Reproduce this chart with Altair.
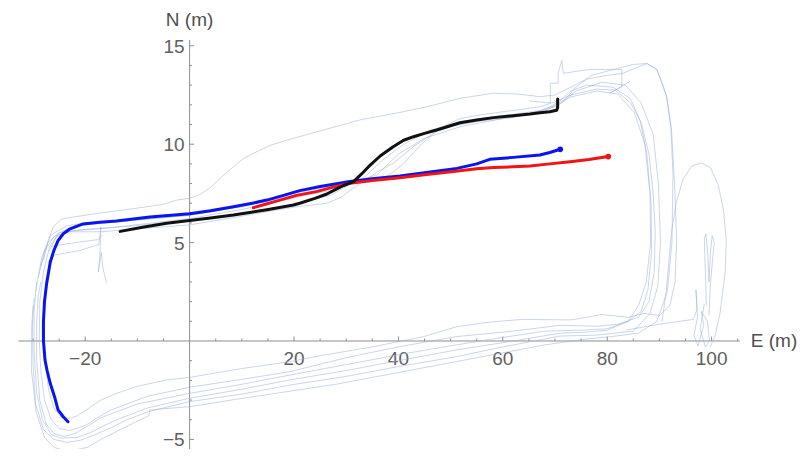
import altair as alt
import pandas as pd

# ---------------- data ----------------
blue_x = [-23.3, -24.2, -25.2, -25.8, -26.7, -27.3, -27.7, -28.0, -28.0, -27.8, -27.4, -26.7, -26.0, -25.2, -24.2,
          -22.9, -20.4, -17.2, -14.0, -7.6, 0.0, 4.0, 8.4, 12.0, 14.8, 18.0, 21.1, 25.0, 30.7, 35.0, 40.3, 45.0,
          51.2, 55.0, 57.5, 62.0, 67.1, 69.0, 71.0]
blue_y = [-4.1, -3.85, -3.5, -2.9, -2.15, -1.5, -0.97, 0.0, 1.0, 2.0, 2.9, 4.0, 4.6, 5.1, 5.45,
          5.7, 5.95, 6.03, 6.1, 6.3, 6.47, 6.62, 6.82, 7.0, 7.16, 7.4, 7.64, 7.85, 8.1, 8.25, 8.38, 8.55,
          8.77, 9.0, 9.23, 9.33, 9.45, 9.58, 9.74]

red_x = [12.2, 14.5, 17.3, 20.5, 24.3, 27.5, 30.7, 35.0, 40.3, 45.0, 51.8, 55.0, 58.2, 62.0, 65.2, 69.0, 72.9, 76.5, 80.2]
red_y = [6.77, 6.95, 7.16, 7.4, 7.59, 7.82, 8.02, 8.15, 8.3, 8.45, 8.65, 8.75, 8.82, 8.85, 8.89, 9.0, 9.11, 9.22, 9.37]

black_x = [-13.3, -9.0, -4.4, 0.0, 4.0, 8.4, 11.5, 14.8, 17.5, 19.9, 21.1, 24.0, 26.3, 28.0, 29.5, 31.4, 33.0, 34.6,
           36.5, 39.0, 41.0, 42.9, 45.0, 47.3, 49.5, 51.8, 55.0, 58.2, 62.0, 65.2, 67.1, 69.0, 70.3, 70.5, 70.5]
black_y = [5.57, 5.78, 5.98, 6.12, 6.25, 6.4, 6.53, 6.67, 6.8, 6.91, 7.0, 7.25, 7.47, 7.7, 7.9, 8.1, 8.5, 8.94,
           9.4, 9.87, 10.2, 10.38, 10.55, 10.72, 10.9, 11.09, 11.23, 11.35, 11.45, 11.53, 11.6, 11.65, 11.72, 11.85, 12.3]

# faint background traces: lists of (E, N) points
faint_traces = {
    "L1": [(-28.0, 4.1), (-27.0, 5.2), (-26.1, 5.8), (-24.5, 6.2), (-21, 6.35), (-17.2, 6.5), (-10, 6.75), (-5, 6.95),
           (-2.5, 7.16), (0, 7.25), (2, 7.45), (4, 7.8), (6, 8.3), (8.4, 8.86), (10.5, 9.3), (12.9, 9.62), (15.5, 9.95),
           (18.6, 10.2), (24, 10.6), (32.6, 11.23), (40, 11.6), (45.4, 11.9), (51.8, 12.33), (58.2, 12.59), (63, 12.55),
           (67.1, 12.41), (70, 12.5), (73, 12.9), (76, 13.3), (80, 13.5), (83, 13.6), (87.6, 14.1), (89.5, 13.8),
           (91.4, 12.4), (92.3, 10.8), (92.9, 8), (93.3, 5.1), (93.0, 3.0), (92, 1.8), (90, 1.3), (87, 1.4),
           (84, 1.2), (79, 1.35), (76, 1.2), (72.9, 1.07), (63.9, 1.1), (57, 0.95), (51.2, 0.73), (44.8, 0.22),
           (35, -0.3), (25, -0.75), (19.2, -1.05), (10, -1.4), (0, -1.85), (-4.4, -1.98), (-10, -2.3), (-14, -2.66),
           (-17, -3.0), (-19.5, -3.45), (-21.5, -3.8), (-22.9, -3.93), (-24.5, -3.9), (-26, -3.4), (-27.0, -2.5),
           (-27.6, -1.2), (-27.9, 0.5), (-27.8, 2.2), (-27.4, 3.3)],
    "L2": [(-27.0, 4.5), (-25.5, 5.3), (-23, 5.55), (-17, 5.55), (-10, 5.7), (0, 5.9), (8, 6.25), (14.8, 6.57),
           (20, 6.8), (26.3, 7.0), (29, 7.3), (30.5, 7.6), (32.6, 8.0), (36, 8.6), (39, 9.03), (43, 9.9), (46.7, 10.55),
           (49, 10.95), (51.8, 11.3), (56, 11.5), (60.1, 11.65), (67.1, 11.9), (70, 12.15), (73, 12.5), (78, 12.8),
           (81.5, 12.75), (84.5, 12.1), (86.5, 11.1), (88.0, 9.5), (88.8, 7.5), (89.2, 5.5), (89.0, 3.5), (88.0, 2.0),
           (86, 1.2), (82, 0.85), (78, 0.75), (71, 0.8), (65, 0.6), (60, 0.45), (51, 0.22), (40, -0.3), (30, -0.85),
           (19.2, -1.56), (10, -1.95), (0, -2.35), (-8, -2.8), (-15, -3.5), (-18, -3.95), (-20, -4.3), (-23, -4.55),
           (-25, -4.45), (-26.5, -4.0), (-27.8, -3.0), (-28.5, -1.5), (-28.8, 0.0), (-28.7, 2.0), (-28.0, 3.5)],
    "L3": [(-28.0, 3.5), (-26.8, 4.8), (-25, 5.5), (-22, 5.85), (-18, 5.95), (-10, 6.15), (0, 6.38), (10, 6.85),
           (20, 7.5), (30, 8.0), (35, 8.15), (38, 8.4), (41, 9.0), (44, 9.9), (47, 10.6), (50, 10.9), (55, 11.15),
           (62, 11.35), (68, 11.75), (71, 12.2), (73, 12.7), (76, 13.0), (81.1, 12.9), (84.5, 12.3), (86.3, 11.2),
           (87.6, 9.5), (88.4, 7), (88.5, 4.5), (87.8, 2.6), (86.5, 1.5), (84, 1.0), (80, 0.62), (75, 0.55), (68, 0.5),
           (58, 0.1), (51, -0.2), (40, -0.7), (30, -1.2), (19.2, -1.73), (10, -2.2), (0, -2.66), (-10, -3.2),
           (-17, -3.9), (-20, -4.4), (-22, -4.7), (-24, -4.86), (-26, -4.7), (-27.5, -4.2), (-28.7, -3.0),
           (-29.3, -1.0), (-29.3, 1.0), (-29.0, 2.3), (-28.5, 3.0)],
    "L4": [(-28.5, 3.8), (-27.2, 5.0), (-25, 5.5), (-21, 5.65), (-15, 5.75), (0, 6.12), (10, 6.48), (20, 6.95),
           (27, 7.4), (31, 8.0), (35, 9.0), (39, 9.9), (43, 10.4), (50, 10.95), (58, 11.3), (66, 11.6), (70, 11.9),
           (73, 12.4), (78, 12.7), (82, 12.55), (85.2, 11.6), (87.2, 10.0), (88.2, 7.5), (88.3, 5.0), (87.5, 3.0),
           (86, 1.8), (84, 1.0), (80, 0.55), (76, 0.45), (71, 0.4), (62, 0.0), (51, -0.46), (40, -1.0), (30, -1.5),
           (19.2, -1.98), (10, -2.45), (0, -2.91), (-8, -3.4), (-13, -3.9), (-16, -4.25), (-19, -4.65), (-21.5, -4.9),
           (-24.5, -4.94), (-26.5, -4.75), (-28.2, -4.0), (-29.3, -2.6), (-29.8, -0.5), (-29.8, 1.5), (-29.3, 3.0)],
    "L5": [(-29, 3.2), (-27.8, 4.6), (-25.8, 5.35), (-22, 5.6), (-12, 5.85), (0, 6.22), (10, 6.68), (20, 7.28),
           (28, 7.7), (33, 8.2), (37, 9.2), (41, 10.0), (46, 10.7), (52, 11.15), (60, 11.45), (67, 11.7), (71, 12.05),
           (74, 12.7), (79, 13.15), (83.5, 13.0), (86.5, 12.1), (88.8, 10.5), (89.8, 8), (90.2, 5.0), (89.7, 2.8),
           (88.2, 1.4), (85, 0.5), (78, 0.3), (71, 0.25), (60, -0.3), (51, -0.8), (40, -1.3), (30, -1.8),
           (19.2, -2.24), (10, -2.7), (0, -3.08), (-8, -3.6), (-12, -4.0), (-15, -4.4), (-18, -4.75), (-21, -5.05),
           (-23.5, -5.15), (-26, -5.0), (-28, -4.5), (-29.5, -3.2), (-30.0, -1.2), (-30.1, 0.8), (-29.8, 2.2)],
    "L6": [(-29.5, 2.5), (-28.3, 4.3), (-26.5, 5.4), (-23.5, 5.85), (-20, 6.0), (-12, 6.1), (0, 6.4), (10, 6.82),
           (20, 7.42), (30, 7.95), (36, 8.45), (40, 9.5), (45, 10.3), (52, 10.9), (60, 11.3), (68, 11.65), (72, 12.3),
           (74, 12.9), (77, 13.5), (82, 13.85), (85, 14.05), (87.6, 14.1), (89.5, 13.8), (90.7, 13.0), (91.4, 12.4),
           (92.2, 10.8), (92.6, 8.5), (92.4, 5.0), (91.5, 2.5), (89.5, 1.0), (86, 0.4), (80, 0.2), (76, 0.1),
           (68, -0.2), (58, -0.7), (48, -1.2), (38, -1.7), (28, -2.2), (18, -2.6), (8, -3.0), (0, -3.34), (-3, -3.4),
           (-7.6, -3.5), (-7.8, -3.8), (-11, -4.2), (-14, -4.6), (-17, -5.0), (-19.5, -5.4), (-23.5, -5.62),
           (-26, -5.4), (-27.8, -4.9), (-29.4, -3.6), (-30.3, -1.5), (-30.3, 0.5), (-30.0, 1.8)],
    "E1": [(90.5, 1.0), (91.3, 2.5), (91.8, 4.0), (92.3, 5.5), (93.2, 7.0), (94.5, 8.2), (96.2, 8.9), (98.1, 9.05),
           (99.8, 8.8), (101.3, 7.9), (102.3, 6.6), (102.8, 5.1), (102.6, 3.5), (101.6, 1.4), (100.6, 0.2), (99.7, -0.3)],
    "E2": [(83.7, 0.56), (90, 0.85), (96.5, 1.1), (97.2, 1.6), (97.0, 2.6), (97.3, 1.2), (96.6, 0.3), (97.4, -0.25),
           (98.5, 0.8), (98.0, 1.5), (99.2, 1.0), (99.6, 0.0), (98.8, -0.3), (97.8, 0.6), (98.6, 1.9)],
    "E3": [(99.0, 1.8), (98.8, 3.5), (98.6, 5.2), (98.9, 5.45), (99.3, 4.3), (99.5, 3.0), (99.8, 4.6), (100.1, 5.35),
           (100.5, 5.0), (100.2, 4.2), (99.7, 2.6), (99.5, 1.3)],
    "E4": [(65, 12.2), (69.1, 12.1), (69.1, 13.1), (70.6, 13.1), (70.6, 13.6), (71.3, 14.24), (71.6, 13.6), (74, 13.7),
           (76.7, 13.8), (82.8, 13.8), (82.8, 12.9), (80.5, 12.6), (84.4, 13.2)],
    "E5": [(-27.2, 4.0), (-25.8, 4.37), (-21, 4.6), (-17.4, 4.9), (-17.0, 5.8), (-17.2, 4.3), (-17.5, 3.5),
           (-16.9, 4.5), (-16.6, 3.7), (-15.9, 2.93)],
    "E6": [(-26.5, 4.8), (-22, 5.0), (-17.5, 5.15), (-16.7, 5.4)],
}

x_major = [-20, 20, 40, 60, 80, 100]
x_major_labels = ["\u221220", "20", "40", "60", "80", "100"]
x_minor = [-30, -25, -15, -10, -5, 5, 10, 15, 25, 30, 35, 45, 50, 55, 65, 70, 75, 85, 90, 95, 105]
y_major = [-5, 5, 10, 15]
y_major_labels = ["\u22125", "5", "10", "15"]
y_minor = [-4, -3, -2, -1, 1, 2, 3, 4, 6, 7, 8, 9, 11, 12, 13, 14]

x_axis_range = [-32.8, 105.4]
y_axis_range = [-5.7, 15.3]

# ---------------- tables ----------------
rows = []
for name, pts in faint_traces.items():
    for i, (e, n) in enumerate(pts):
        rows.append({"trace": name, "i": i, "E": e, "N": n})
faint_df = pd.DataFrame(rows)

main_rows = []
for name, xs_, ys_ in [("blue", blue_x, blue_y), ("red", red_x, red_y), ("black", black_x, black_y)]:
    for i, (e, n) in enumerate(zip(xs_, ys_)):
        main_rows.append({"series": name, "i": i, "E": e, "N": n})
main_df = pd.DataFrame(main_rows)

end_df = pd.DataFrame({"series": ["blue", "red"], "E": [blue_x[-1], red_x[-1]], "N": [blue_y[-1], red_y[-1]]})

xmaj_df = pd.DataFrame({"t": x_major, "label": x_major_labels, "z": 0})
xmin_df = pd.DataFrame({"t": x_minor, "z": 0})
ymaj_df = pd.DataFrame({"t": y_major, "label": y_major_labels, "z": 0})
ymin_df = pd.DataFrame({"t": y_minor, "z": 0})

xs = alt.Scale(domain=[-34.79, 116.93], nice=False, zero=False)
ys = alt.Scale(domain=[-5.488, 16.92], nice=False, zero=False)


def X(f):
    return alt.X(f, type="quantitative", scale=xs, axis=None)


def Y(f):
    return alt.Y(f, type="quantitative", scale=ys, axis=None)


AX = "#8f8f8f"
LAB = "#606060"
FONT = "Liberation Sans"

axis_x = alt.Chart(pd.DataFrame({"a": [x_axis_range[0]], "b": [x_axis_range[1]], "z": [0]})).mark_rule(
    color=AX, strokeWidth=1).encode(x=X("a"), x2="b", y=Y("z"))
axis_y = alt.Chart(pd.DataFrame({"a": [y_axis_range[0]], "b": [y_axis_range[1]], "z": [0]})).mark_rule(
    color=AX, strokeWidth=1).encode(y=Y("a"), y2="b", x=X("z"))

xt_major = alt.Chart(xmaj_df).mark_rule(color=AX, y2Offset=-4.5).encode(x=X("t"), y=Y("z"), y2="z")
xt_minor = alt.Chart(xmin_df).mark_rule(color=AX, y2Offset=-2.5).encode(x=X("t"), y=Y("z"), y2="z")
yt_major = alt.Chart(ymaj_df).mark_rule(color=AX, x2Offset=4.5).encode(y=Y("t"), x=X("z"), x2="z")
yt_minor = alt.Chart(ymin_df).mark_rule(color=AX, x2Offset=2.5).encode(y=Y("t"), x=X("z"), x2="z")

x_labels = alt.Chart(xmaj_df).mark_text(font=FONT, fontSize=19, color=LAB, dy=18, align="center",
                                        baseline="middle").encode(x=X("t"), y=Y("z"), text="label:N")
y_labels = alt.Chart(ymaj_df).mark_text(font=FONT, fontSize=19, color=LAB, dx=-5, dy=1, align="right",
                                        baseline="middle").encode(y=Y("t"), x=X("z"), text="label:N")

e_title = alt.Chart(pd.DataFrame({"x": [x_axis_range[1]], "y": [0], "t": ["E (m)"]})).mark_text(
    font=FONT, fontSize=19, color="#505050", dx=11, align="left", baseline="middle").encode(
    x=X("x"), y=Y("y"), text="t:N")
n_title = alt.Chart(pd.DataFrame({"x": [0], "y": [y_axis_range[1]], "t": ["N (m)"]})).mark_text(
    font=FONT, fontSize=19, color="#505050", dy=-20, align="center", baseline="middle").encode(
    x=X("x"), y=Y("y"), text="t:N")

faint = alt.Chart(faint_df).mark_line(color="#9fb4d8", strokeWidth=1, opacity=0.55).encode(
    x=X("E"), y=Y("N"), detail="trace:N", order="i:Q")

cscale = alt.Scale(domain=["blue", "red", "black"], range=["#0a14f0", "#f01414", "#111111"])
main = alt.Chart(main_df).mark_line(strokeWidth=3, strokeCap="round", strokeJoin="round").encode(
    x=X("E"), y=Y("N"), color=alt.Color("series:N", scale=cscale, legend=None), order="i:Q")
ends = alt.Chart(end_df).mark_circle(size=32, opacity=1).encode(
    x=X("E"), y=Y("N"), color=alt.Color("series:N", scale=cscale, legend=None))

chart = alt.layer(
    axis_x, axis_y, xt_major, xt_minor, yt_major, yt_minor, x_labels, y_labels, e_title, n_title,
    faint, main, ends
).properties(
    width=792, height=441, padding=0, autosize=alt.AutoSizeParams(type="none"), background="white"
).configure_view(stroke=None)

chart.save("out.html", embed_options={"renderer": "svg", "actions": False})
